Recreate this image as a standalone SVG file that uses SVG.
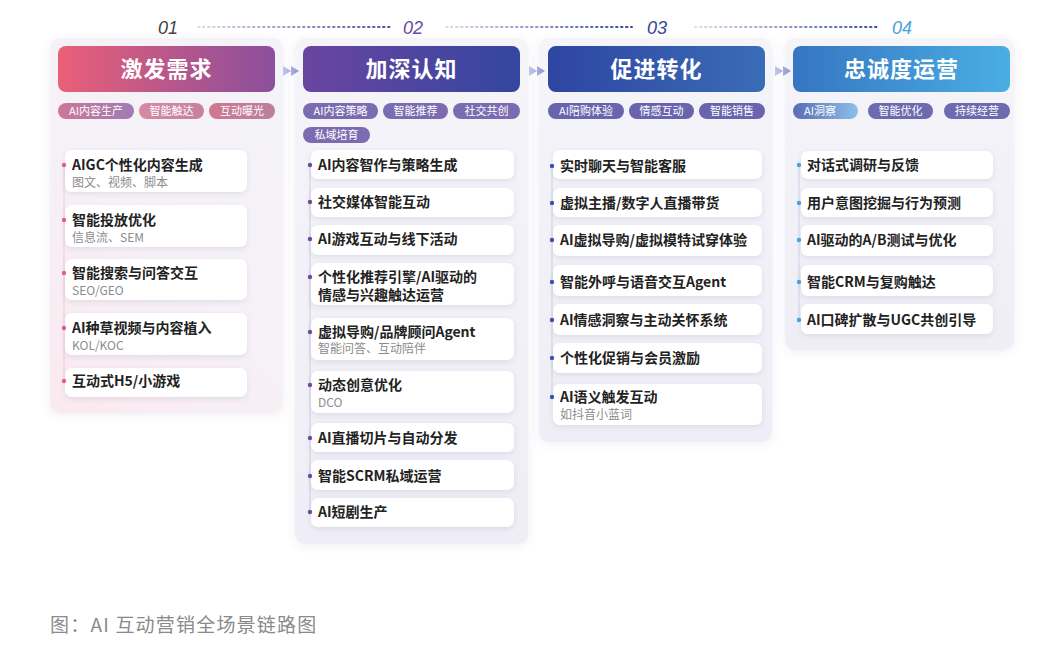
<svg xmlns="http://www.w3.org/2000/svg" width="1055" height="668" viewBox="0 0 1055 668">
<defs>
<style>
.cn{font-family:"Noto Sans CJK SC","Noto Sans",sans-serif}
.hd{font-family:"Noto Sans CJK SC",sans-serif;font-size:22px;font-weight:700;fill:#fff;text-anchor:middle;letter-spacing:1px}
.pl{font-family:"Noto Sans CJK SC",sans-serif;font-size:11px;fill:#fff;text-anchor:middle}
.t{font-family:"Noto Sans CJK SC",sans-serif;font-size:14px;font-weight:700;fill:#222}
.s{font-family:"Noto Sans CJK SC",sans-serif;font-size:12px;fill:#8c8c8c}
.num{font-family:"Liberation Sans",Arial,sans-serif;font-size:18px;font-style:italic;text-anchor:middle}
.card{fill:#fff;filter:url(#sh)}
.panel{filter:url(#psh)}
.dots{stroke-width:2;stroke-dasharray:1.5 3.5;stroke-linecap:round;fill:none}
</style>
<filter id="sh" x="-10%" y="-30%" width="120%" height="170%">
<feDropShadow dx="0" dy="2" stdDeviation="2.5" flood-color="#5a4f8a" flood-opacity="0.13"/>
</filter>
<filter id="psh" x="-10%" y="-10%" width="120%" height="120%">
<feDropShadow dx="0" dy="2" stdDeviation="4" flood-color="#6a5f9a" flood-opacity="0.10"/>
</filter>
<linearGradient id="h1" x1="0" x2="1"><stop offset="0" stop-color="#ea5f78"/><stop offset="1" stop-color="#8a4f9c"/></linearGradient>
<linearGradient id="h2" x1="0" x2="1"><stop offset="0" stop-color="#6a45a0"/><stop offset="1" stop-color="#3346a0"/></linearGradient>
<linearGradient id="h3" x1="0" x2="1"><stop offset="0" stop-color="#2e45a2"/><stop offset="1" stop-color="#3a6cb6"/></linearGradient>
<linearGradient id="h4" x1="0" x2="1"><stop offset="0" stop-color="#3675c2"/><stop offset="1" stop-color="#4aaee3"/></linearGradient>
<linearGradient id="p1" x1="0" x2="1"><stop offset="0" stop-color="#cc7898"/><stop offset="1" stop-color="#9f7bb5"/></linearGradient>
<linearGradient id="p1b" x1="0" x2="1"><stop offset="0" stop-color="#d58aa2"/><stop offset="1" stop-color="#c6819e"/></linearGradient>
<linearGradient id="p1c" x1="0" x2="1"><stop offset="0" stop-color="#cf7890"/><stop offset="1" stop-color="#b9809e"/></linearGradient>
<linearGradient id="p4" x1="0" x2="1"><stop offset="0" stop-color="#5a6db2"/><stop offset="1" stop-color="#8cc0e8"/></linearGradient>
<linearGradient id="bg1" x1="0" y1="1" x2="0.6" y2="0"><stop offset="0" stop-color="#fbe9ef"/><stop offset="0.5" stop-color="#f6f1f6"/><stop offset="1" stop-color="#f4f3f8"/></linearGradient>
<linearGradient id="bg" x1="0" y1="0" x2="0" y2="1"><stop offset="0" stop-color="#f5f4f9"/><stop offset="1" stop-color="#efeef6"/></linearGradient>
<linearGradient id="d1" gradientUnits="userSpaceOnUse" x1="198" y1="0" x2="390" y2="0"><stop offset="0" stop-color="#dcdce6"/><stop offset="1" stop-color="#5a4f9c"/></linearGradient>
<linearGradient id="d2" gradientUnits="userSpaceOnUse" x1="446" y1="0" x2="632" y2="0"><stop offset="0" stop-color="#dcdce8"/><stop offset="1" stop-color="#34489e"/></linearGradient>
<linearGradient id="d3" gradientUnits="userSpaceOnUse" x1="695" y1="0" x2="878" y2="0"><stop offset="0" stop-color="#dcdfec"/><stop offset="1" stop-color="#3c4f9f"/></linearGradient>
<linearGradient id="ar" x1="0" x2="1"><stop offset="0" stop-color="#c4c6ea"/><stop offset="1" stop-color="#8f93d4"/></linearGradient>
</defs>
<rect width="1055" height="668" fill="#fff"/>

<!-- Column 1 -->
<g id="stage1">
<rect class="panel" x="50" y="38" width="233" height="375" rx="10" fill="url(#bg1)"/>
<text class="num" x="168" y="34" fill="#444">01</text>
<g id="header1"><rect x="58" y="46" width="217" height="46" rx="8" fill="url(#h1)"/><text class="hd" x="166.5" y="77">激发需求</text></g>
<g id="tags1">
<g id="tag1a"><rect x="58" y="103" width="76" height="16" rx="8" fill="url(#p1)"/><text class="pl" x="96" y="115">AI内容生产</text></g>
<g id="tag1b"><rect x="139" y="103" width="65" height="16" rx="8" fill="url(#p1b)"/><text class="pl" x="171.5" y="115">智能触达</text></g>
<g id="tag1c"><rect x="209" y="103" width="66" height="16" rx="8" fill="url(#p1c)"/><text class="pl" x="242" y="115">互动曝光</text></g>
</g>
<line x1="64" y1="165" x2="64" y2="381" stroke="#eccad5" stroke-width="1"/>
<g id="item1-1"><rect class="card" x="65" y="150" width="182" height="42" rx="7"/><circle cx="64" cy="165" r="2.2" fill="#e35e86"/><text class="t" x="72" y="170">AIGC个性化内容生成</text><text class="s" x="72" y="187">图文、视频、脚本</text></g>
<g id="item1-2"><rect class="card" x="65" y="205" width="182" height="42" rx="7"/><circle cx="64" cy="220" r="2.2" fill="#e35e86"/><text class="t" x="72" y="225">智能投放优化</text><text class="s" x="72" y="242">信息流、SEM</text></g>
<g id="item1-3"><rect class="card" x="65" y="259" width="182" height="41" rx="7"/><circle cx="64" cy="273" r="2.2" fill="#e35e86"/><text class="t" x="72" y="278">智能搜索与问答交互</text><text class="s" x="72" y="295">SEO/GEO</text></g>
<g id="item1-4"><rect class="card" x="65" y="313" width="182" height="42" rx="7"/><circle cx="64" cy="328" r="2.2" fill="#e35e86"/><text class="t" x="72" y="333">AI种草视频与内容植入</text><text class="s" x="72" y="350">KOL/KOC</text></g>
<g id="item1-5"><rect class="card" x="65" y="368" width="182" height="29" rx="7"/><circle cx="64" cy="381" r="2.2" fill="#e35e86"/><text class="t" x="72" y="386">互动式H5/小游戏</text></g>
</g>

<!-- Column 2 -->
<g id="stage2">
<rect class="panel" x="295" y="38" width="233" height="506" rx="10" fill="url(#bg)"/>
<text class="num" x="413" y="34" fill="#6a4ca0">02</text>
<g id="header2"><rect x="303" y="46" width="217" height="46" rx="8" fill="url(#h2)"/><text class="hd" x="411.5" y="77">加深认知</text></g>
<g id="tags2">
<g id="tag2a"><rect x="303" y="103" width="75" height="16" rx="8" fill="#7b6cb1"/><text class="pl" x="340.5" y="115">AI内容策略</text></g>
<g id="tag2b"><rect x="383" y="103" width="65" height="16" rx="8" fill="#7b6cb1"/><text class="pl" x="415.5" y="115">智能推荐</text></g>
<g id="tag2c"><rect x="453" y="103" width="67" height="16" rx="8" fill="#7b6cb1"/><text class="pl" x="486.5" y="115">社交共创</text></g>
<g id="tag2d"><rect x="303" y="127" width="67" height="16" rx="8" fill="#7b6cb1"/><text class="pl" x="336.5" y="139">私域培育</text></g>
</g>
<line x1="310" y1="165" x2="310" y2="512" stroke="#cfcbe0" stroke-width="1"/>
<g id="item2-1"><rect class="card" x="311" y="150" width="203" height="29" rx="7"/><circle cx="310" cy="165" r="2.2" fill="#6a4ca0"/><text class="t" x="318" y="170">AI内容智作与策略生成</text></g>
<g id="item2-2"><rect class="card" x="311" y="188" width="203" height="29" rx="7"/><circle cx="310" cy="202" r="2.2" fill="#6a4ca0"/><text class="t" x="318" y="207">社交媒体智能互动</text></g>
<g id="item2-3"><rect class="card" x="311" y="225" width="203" height="30" rx="7"/><circle cx="310" cy="239" r="2.2" fill="#6a4ca0"/><text class="t" x="318" y="244">AI游戏互动与线下活动</text></g>
<g id="item2-4"><rect class="card" x="311" y="263" width="203" height="42" rx="7"/><circle cx="310" cy="277" r="2.2" fill="#6a4ca0"/><text class="t" x="318" y="282">个性化推荐引擎/AI驱动的</text><text class="t" x="318" y="300">情感与兴趣触达运营</text></g>
<g id="item2-5"><rect class="card" x="311" y="318" width="203" height="42" rx="7"/><circle cx="310" cy="332" r="2.2" fill="#6a4ca0"/><text class="t" x="318" y="337">虚拟导购/品牌顾问Agent</text><text class="s" x="318" y="353">智能问答、互动陪伴</text></g>
<g id="item2-6"><rect class="card" x="311" y="371" width="203" height="42" rx="7"/><circle cx="310" cy="385" r="2.2" fill="#6a4ca0"/><text class="t" x="318" y="390">动态创意优化</text><text class="s" x="318" y="407">DCO</text></g>
<g id="item2-7"><rect class="card" x="311" y="423" width="203" height="29" rx="7"/><circle cx="310" cy="438" r="2.2" fill="#6a4ca0"/><text class="t" x="318" y="443">AI直播切片与自动分发</text></g>
<g id="item2-8"><rect class="card" x="311" y="460" width="203" height="30" rx="7"/><circle cx="310" cy="476" r="2.2" fill="#6a4ca0"/><text class="t" x="318" y="481">智能SCRM私域运营</text></g>
<g id="item2-9"><rect class="card" x="311" y="498" width="203" height="29" rx="7"/><circle cx="310" cy="512" r="2.2" fill="#6a4ca0"/><text class="t" x="318" y="517">AI短剧生产</text></g>
</g>

<!-- Column 3 -->
<g id="stage3">
<rect class="panel" x="539" y="38" width="233" height="404" rx="10" fill="url(#bg)"/>
<text class="num" x="657" y="34" fill="#34489e">03</text>
<g id="header3"><rect x="548" y="46" width="217" height="46" rx="8" fill="url(#h3)"/><text class="hd" x="656.5" y="77">促进转化</text></g>
<g id="tags3">
<g id="tag3a"><rect x="548" y="103" width="76" height="16" rx="8" fill="#6a63ae"/><text class="pl" x="586" y="115">AI陪购体验</text></g>
<g id="tag3b"><rect x="629" y="103" width="65" height="16" rx="8" fill="#6a63ae"/><text class="pl" x="661.5" y="115">情感互动</text></g>
<g id="tag3c"><rect x="699" y="103" width="66" height="16" rx="8" fill="#6a63ae"/><text class="pl" x="732" y="115">智能销售</text></g>
</g>
<line x1="552" y1="166" x2="552" y2="397" stroke="#cfd0e2" stroke-width="1"/>
<g id="item3-1"><rect class="card" x="553" y="150" width="209" height="29" rx="7"/><circle cx="552" cy="166" r="2.2" fill="#3a55a8"/><text class="t" x="560" y="171">实时聊天与智能客服</text></g>
<g id="item3-2"><rect class="card" x="553" y="188" width="209" height="29" rx="7"/><circle cx="552" cy="203" r="2.2" fill="#3a55a8"/><text class="t" x="560" y="208">虚拟主播/数字人直播带货</text></g>
<g id="item3-3"><rect class="card" x="553" y="225" width="209" height="31" rx="7"/><circle cx="552" cy="240" r="2.2" fill="#3a55a8"/><text class="t" x="560" y="245">AI虚拟导购/虚拟模特试穿体验</text></g>
<g id="item3-4"><rect class="card" x="553" y="265" width="209" height="31" rx="7"/><circle cx="552" cy="282" r="2.2" fill="#3a55a8"/><text class="t" x="560" y="287">智能外呼与语音交互Agent</text></g>
<g id="item3-5"><rect class="card" x="553" y="304" width="209" height="31" rx="7"/><circle cx="552" cy="320" r="2.2" fill="#3a55a8"/><text class="t" x="560" y="325">AI情感洞察与主动关怀系统</text></g>
<g id="item3-6"><rect class="card" x="553" y="343" width="209" height="30" rx="7"/><circle cx="552" cy="358" r="2.2" fill="#3a55a8"/><text class="t" x="560" y="363">个性化促销与会员激励</text></g>
<g id="item3-7"><rect class="card" x="553" y="384" width="209" height="41" rx="7"/><circle cx="552" cy="397" r="2.2" fill="#3a55a8"/><text class="t" x="560" y="402">AI语义触发互动</text><text class="s" x="560" y="419">如抖音小蓝词</text></g>
</g>

<!-- Column 4 -->
<g id="stage4">
<rect class="panel" x="785" y="38" width="229" height="312" rx="10" fill="url(#bg)"/>
<text class="num" x="902" y="34" fill="#4aa2d8">04</text>
<g id="header4"><rect x="793" y="46" width="217" height="46" rx="8" fill="url(#h4)"/><text class="hd" x="901.5" y="77">忠诚度运营</text></g>
<g id="tags4">
<g id="tag4a"><rect x="793" y="103" width="65" height="16" rx="8" fill="url(#p4)"/><text class="pl" x="820" y="115">AI洞察</text></g>
<g id="tag4b"><rect x="868" y="103" width="65" height="16" rx="8" fill="#6e6ab0"/><text class="pl" x="900.5" y="115">智能优化</text></g>
<g id="tag4c"><rect x="944" y="103" width="66" height="16" rx="8" fill="#6e6ab0"/><text class="pl" x="977" y="115">持续经营</text></g>
</g>
<line x1="799" y1="165" x2="799" y2="320" stroke="#cbd6e6" stroke-width="1"/>
<g id="item4-1"><rect class="card" x="801" y="151" width="192" height="28" rx="7"/><circle cx="799" cy="165" r="2.2" fill="#4aa2d8"/><text class="t" x="807" y="170">对话式调研与反馈</text></g>
<g id="item4-2"><rect class="card" x="801" y="188" width="192" height="29" rx="7"/><circle cx="799" cy="203" r="2.2" fill="#4aa2d8"/><text class="t" x="807" y="208">用户意图挖掘与行为预测</text></g>
<g id="item4-3"><rect class="card" x="801" y="225" width="192" height="31" rx="7"/><circle cx="799" cy="240" r="2.2" fill="#4aa2d8"/><text class="t" x="807" y="245">AI驱动的A/B测试与优化</text></g>
<g id="item4-4"><rect class="card" x="801" y="265" width="192" height="31" rx="7"/><circle cx="799" cy="282" r="2.2" fill="#4aa2d8"/><text class="t" x="807" y="287">智能CRM与复购触达</text></g>
<g id="item4-5"><rect class="card" x="801" y="304" width="192" height="30" rx="7"/><circle cx="799" cy="320" r="2.2" fill="#4aa2d8"/><text class="t" x="807" y="325">AI口碑扩散与UGC共创引导</text></g>
</g>

<!-- connectors -->
<g id="connectors">
<line class="dots" x1="198" y1="27" x2="390" y2="27" stroke="url(#d1)"/>
<line class="dots" x1="446" y1="27" x2="632" y2="27" stroke="url(#d2)"/>
<line class="dots" x1="695" y1="27" x2="878" y2="27" stroke="url(#d3)"/>
<g fill="url(#ar)">
<path d="M283 66 L291 71 L283 76 Z M291 66 L299 71 L291 76 Z"/>
<path d="M529 66 L537 71 L529 76 Z M537 66 L545 71 L537 76 Z"/>
<path d="M775 66 L783 71 L775 76 Z M783 66 L791 71 L783 76 Z"/>
</g>
</g>

<text class="cn" x="50" y="632" font-size="19" letter-spacing="1.2" fill="#8a8a8a">图：AI 互动营销全场景链路图</text>
</svg>
